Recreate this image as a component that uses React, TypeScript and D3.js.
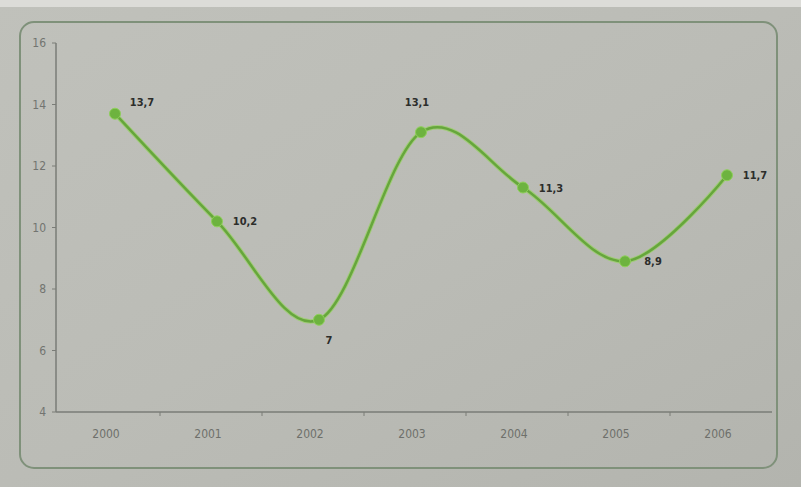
import React from "react";
import * as d3 from "d3";

const years = ["2000", "2001", "2002", "2003", "2004", "2005", "2006"];
const values = [13.7, 10.2, 7, 13.1, 11.3, 8.9, 11.7];
const yTicks = [4, 6, 8, 10, 12, 14, 16];
const labelSide = ["right", "right", "below", "above", "right", "right", "right"];

const W = 801;
const H = 487;
const axisX = 56;
const left = 64;
const right = 778;
const top = 43;
const bottom = 412;

export default function App() {
  const x = d3.scaleBand<string>().domain(years).range([left, right]);
  const y = d3.scaleLinear().domain([4, 16]).range([bottom, top]);
  const cx = (d: string) => (x(d) ?? 0) + x.bandwidth() / 2;
  const pts: [number, number][] = years.map((d, i) => [cx(d), y(values[i])]);
  const line = d3.line().curve(d3.curveCardinal.tension(0))(pts) ?? "";
  const fmt = (v: number) => String(v).replace(".", ",");
  const labelPos = (i: number): [number, number, string] => {
    const [px, py] = pts[i];
    const s = labelSide[i];
    if (s === "below") return [px + 10, py + 24, "middle"];
    if (s === "above") return [px - 4, py - 26, "middle"];
    if (i === 0) return [px + 27, py - 8, "middle"];
    return [px + 28, py + 4, "middle"];
  };
  const font = "'Liberation Sans Narrow', 'DejaVu Sans Condensed', 'Liberation Sans', sans-serif";
  return (
    <svg
      width={W}
      height={H}
      style={{ position: "absolute", left: 0, top: 0 }}
      xmlns="http://www.w3.org/2000/svg"
    >
      <defs>
        <linearGradient id="paper" x1="0" y1="0" x2="1" y2="1">
          <stop offset="0" stopColor="#c0c1bb" />
          <stop offset="0.5" stopColor="#bbbcb6" />
          <stop offset="1" stopColor="#b3b4ae" />
        </linearGradient>
      </defs>
      <rect x={0} y={0} width={W} height={H} fill="url(#paper)" />
      <rect x={0} y={0} width={W} height={7} fill="#dcdcd8" />
      <rect
        x={20}
        y={22}
        width={757}
        height={446}
        rx={14}
        fill="none"
        stroke="#7f917a"
        strokeWidth={2}
      />
      {/* axes */}
      <line x1={axisX} x2={axisX} y1={top} y2={bottom} stroke="#7a7c77" strokeWidth={1.5} />
      <line x1={axisX} x2={right - 6} y1={bottom} y2={bottom} stroke="#7a7c77" strokeWidth={1.5} />
      {yTicks.map((t) => (
        <g key={t}>
          <line x1={axisX - 4} x2={axisX} y1={y(t)} y2={y(t)} stroke="#7a7c77" strokeWidth={1} />
          <text
            x={axisX - 10}
            y={y(t) + 4}
            textAnchor="end"
            fontSize={12}
            fill="#727470"
            fontFamily={font}
          >
            {t}
          </text>
        </g>
      ))}
      {years.slice(1).map((d) => (
        <line
          key={d}
          x1={(x(d) ?? 0) - 6}
          x2={(x(d) ?? 0) - 6}
          y1={bottom}
          y2={bottom + 4}
          stroke="#7a7c77"
          strokeWidth={1}
        />
      ))}
      {years.map((d) => (
        <text
          key={d}
          x={cx(d) - 9}
          y={bottom + 26}
          textAnchor="middle"
          fontSize={12}
          fill="#6e706b"
          fontFamily={font}
        >
          {d}
        </text>
      ))}
      <path d={line} fill="none" stroke="#96d35e" strokeWidth={4.5} strokeLinejoin="round" opacity={0.7} />
      <path d={line} fill="none" stroke="#66a63c" strokeWidth={2.5} strokeLinejoin="round" />
      {pts.map(([px, py], i) => (
        <circle key={i} cx={px} cy={py} r={5.5} fill="#6db33f" stroke="#8fd05a" strokeWidth={1} />
      ))}
      {values.map((v, i) => {
        const [lx, ly, anchor] = labelPos(i);
        return (
          <text
            key={i}
            x={lx}
            y={ly}
            textAnchor={anchor}
            fontSize={11}
            fontWeight="bold"
            fill="#2c2d2b"
            fontFamily={font}
          >
            {fmt(v)}
          </text>
        );
      })}
    </svg>
  );
}
